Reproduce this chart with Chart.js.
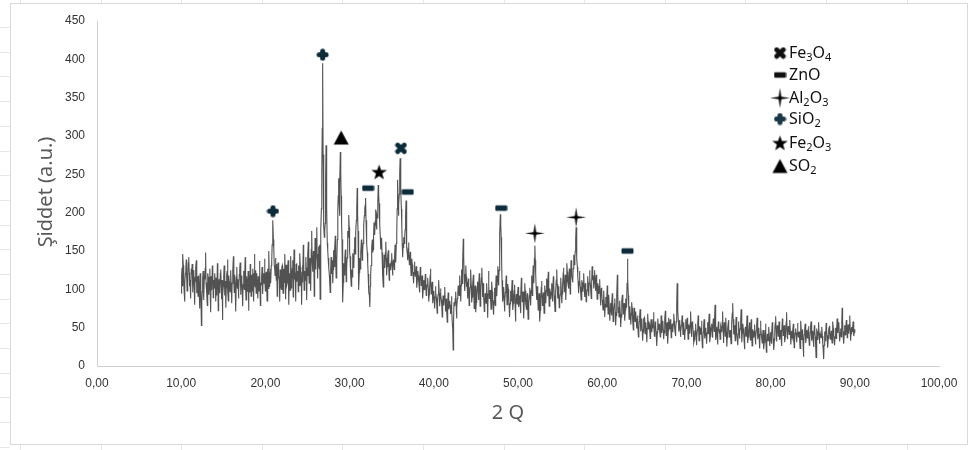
<!DOCTYPE html>
<html>
<head>
<meta charset="utf-8">
<script src="https://cdn.jsdelivr.net/npm/chart.js@4.4.1/dist/chart.umd.min.js"></script>
<style>
  html, body { margin: 0; padding: 0; background: #fff; }
  #wrap { width: 970px; height: 450px; }
</style>
</head>
<body>
<div id="wrap"><canvas id="xrdChart" width="970" height="450"></canvas></div>
<script>
// XRD pattern, 2theta from 10 to 90
// intensity: readings at 10.0, 10.1, ... 90.0
// intensityHalf: readings at 10.05, 10.15, ... 89.95
const startAngle = 10;
const angleStep = 0.1;
const intensity = [
  95,128,146,112,84,121,139,98,117,142,
  104,88,127,133,96,119,80,112,138,101,
  91,118,75,109,53,97,124,86,113,148,
  102,79,116,93,127,70,108,131,89,112,
  121,84,99,134,72,113,95,126,87,60,
  104,131,92,76,118,139,85,110,97,125,
  82,114,143,96,108,71,129,101,88,119,
  135,93,111,78,124,100,142,86,115,97,
  72,118,133,91,109,127,84,146,103,95,
  121,88,112,137,79,106,129,94,117,140,
  98,123,85,114,150,103,127,131,158,190,
  152,128,141,112,91,135,118,84,122,100,
  131,95,118,146,87,124,109,138,80,113,
  143,101,127,90,152,116,84,134,121,97,
  118,147,105,80,131,158,99,124,142,86,
  127,162,108,141,98,176,123,150,91,167,
  135,181,114,156,127,87,178,252,395,214,
  168,186,288,205,152,133,118,96,142,120,
  108,151,129,170,115,138,204,245,196,279,
  222,165,83,134,118,152,110,141,176,197,
  150,131,104,116,147,128,168,159,190,232,
  176,99,141,126,165,138,160,184,205,219,
  172,148,120,96,77,118,143,165,152,187,
  171,204,178,193,236,212,185,152,167,131,
  103,145,128,162,118,139,151,112,134,125,
  147,118,139,126,158,135,172,243,196,224,
  271,230,182,142,168,160,178,216,155,138,
  161,132,149,118,140,125,108,136,117,130,
  102,124,111,96,129,105,118,88,112,99,
  120,92,106,115,84,101,127,94,110,82,
  98,75,104,89,69,93,112,78,101,86,
  64,92,79,103,71,88,57,96,74,85,
  68,91,55,21,83,78,97,62,88,105,
  92,118,84,126,107,166,120,98,131,103,
  88,114,79,102,126,83,97,119,75,105,
  70,96,110,86,121,78,102,128,90,108,
  71,95,82,108,63,124,88,99,74,110,
  86,67,102,79,118,91,130,105,146,198,
  168,112,84,103,71,96,118,80,107,92,
  64,98,85,112,73,90,106,58,94,81,
  103,77,92,69,115,84,97,62,108,88,
  74,95,61,83,102,79,118,92,131,108,
  157,121,86,104,73,95,58,88,111,79,
  96,69,105,82,114,91,123,78,101,87,
  108,84,117,92,71,99,126,88,104,76,
  93,115,82,106,128,97,119,86,134,112,
  101,127,94,138,118,109,145,132,150,181,
  140,118,95,124,103,86,112,97,121,90,
  108,84,99,117,91,125,106,88,130,112,
  101,125,98,119,87,108,94,113,79,102,
  86,73,98,64,90,77,105,68,93,59,
  82,66,95,58,74,88,53,79,119,70,
  64,85,51,77,93,68,82,59,88,76,
  140,92,61,78,54,83,69,47,76,58,
  71,49,66,38,58,74,45,62,33,55,
  63,42,57,31,68,48,54,36,61,44,
  52,70,39,58,45,26,62,47,55,38,
  66,43,59,35,51,72,40,57,29,63,
  48,61,37,55,44,68,50,39,58,108,
  72,45,60,38,53,66,41,57,34,61,
  49,63,35,54,42,71,38,58,46,30,
  38,55,27,47,66,33,52,41,59,24,
  44,61,36,50,29,57,42,68,31,48,
  55,37,62,45,80,34,51,28,58,43,
  35,52,44,71,30,57,39,63,25,49,
  60,38,47,29,56,82,41,53,33,64,
  42,27,58,36,49,74,31,55,44,22,
  51,39,66,30,45,57,34,61,26,48,
  37,54,28,46,63,35,50,23,59,41,
  30,47,22,39,55,18,42,33,51,26,
  44,29,57,36,21,48,65,32,53,39,
  58,34,47,26,62,40,53,31,45,70,
  35,52,41,60,28,46,37,55,24,43,
  49,31,56,38,45,23,59,34,48,12,
  41,55,30,47,36,52,27,44,58,33,
  46,25,53,38,11,49,34,57,29,42,
  37,51,28,9,45,33,56,40,24,48,
  52,35,46,30,58,41,27,50,36,62,
  43,57,32,49,38,76,45,29,53,40,
  60,37,54,42,66,33,51,45,58,39,
  48
];
const intensityHalf = [
  118,104,131,97,109,126,115,103,135,122,
  112,97,120,108,125,101,114,129,95,117,
  106,92,121,99,84,113,102,118,127,109,
  96,121,104,110,94,117,99,123,106,101,
  108,115,92,119,103,97,121,106,112,93,
  117,99,111,102,124,96,118,105,114,101,
  108,124,111,119,92,116,104,113,97,126,
  110,118,97,106,113,122,101,117,109,124,
  105,96,114,119,98,112,121,107,125,110,
  102,117,98,124,109,116,96,121,108,113,
  119,104,127,101,122,114,108,136,172,165,
  131,118,124,133,107,121,112,126,104,129,
  118,127,109,124,132,105,128,116,121,99,
  125,112,138,106,127,119,133,110,124,131,
  104,129,117,123,109,136,120,112,128,118,
  144,120,135,126,152,138,129,142,133,126,
  150,139,146,132,158,121,205,310,276,182,
  177,240,232,160,141,128,106,125,131,138,
  126,143,152,138,131,165,222,215,238,250,
  186,126,109,128,140,131,129,156,168,181,
  143,118,126,135,139,152,146,174,205,198,
  134,122,133,147,151,149,172,196,210,190,
  160,134,108,92,104,131,155,148,171,178,
  189,186,197,214,224,196,168,160,148,118,
  126,136,148,141,130,144,129,125,130,137,
  132,129,133,144,146,160,205,220,210,250,
  252,205,160,155,163,170,196,190,147,150,
  146,141,133,129,132,117,122,126,124,115,
  113,118,104,112,116,111,104,100,106,108,
  106,99,111,100,93,114,110,102,96,91,
  87,90,96,80,82,102,95,90,93,78,
  80,86,91,87,80,73,77,85,80,77,
  80,73,48,60,80,88,80,76,96,98,
  105,101,105,116,135,142,110,114,117,110,
  101,97,91,114,105,90,108,98,90,89,
  83,103,98,104,100,90,115,109,99,89,
  83,89,95,86,94,105,93,86,92,97,
  76,85,90,99,104,111,117,125,172,185,
  140,98,94,87,84,107,99,93,100,78,
  81,92,99,93,82,98,82,76,88,92,
  90,85,81,92,99,91,80,85,98,81,
  85,78,72,92,90,98,105,111,120,140,
  138,104,95,88,84,76,73,99,95,88,
  83,87,93,98,103,107,100,90,94,96,
  96,100,104,82,85,112,107,96,90,85,
  104,98,94,117,112,108,103,110,123,106,
  114,110,116,128,113,127,138,141,165,170,
  129,107,110,113,95,99,104,109,106,100,
  96,92,108,104,108,115,97,109,121,118,
  113,111,108,103,97,101,104,96,90,94,
  80,85,81,77,83,91,86,80,76,72,
  74,80,76,66,81,70,66,92,95,77,
  74,68,64,85,80,75,70,73,82,108,
  115,76,70,66,68,76,58,62,67,64,
  60,57,52,48,66,60,53,48,44,61,
  52,50,44,49,58,51,45,48,52,50,
  61,54,48,51,35,44,54,51,46,45,
  54,51,47,43,61,56,48,43,46,55,
  54,49,46,50,56,59,44,49,80,85,
  58,52,49,45,59,53,49,45,47,55,
  56,49,44,48,56,54,48,52,38,34,
  46,41,37,56,49,42,46,50,41,34,
  52,48,43,40,43,49,55,49,39,46,
  46,50,53,62,57,42,39,43,50,48,
  43,48,57,50,43,48,51,44,37,54,
  49,42,38,43,69,61,47,43,48,53,
  34,42,47,43,61,52,43,49,33,36,
  45,52,48,38,51,45,47,43,37,42,
  45,41,37,54,49,42,36,41,50,36,
  38,34,31,47,36,30,37,42,38,35,
  36,43,46,28,34,56,48,42,46,41,
  46,40,36,44,51,46,42,38,57,47,
  43,46,50,44,37,41,46,39,33,46,
  40,43,47,41,34,41,46,41,30,27,
  48,42,38,41,44,39,35,51,45,39,
  35,39,45,27,30,41,45,43,35,39,
  44,39,21,27,39,44,48,32,36,50,
  43,40,38,44,49,34,38,43,49,52,
  50,44,40,43,57,60,37,41,46,50,
  48,45,48,54,49,42,48,51,48,44
];

// phase markers (2theta, intensity where the symbol sits)
const phaseNames = ['Fe3O4', 'ZnO', 'Al2O3', 'SiO2', 'Fe2O3', 'SO2'];
const fe3o4X = [36.1];        const fe3o4Y = [284];
const znoX = [32.2, 36.9, 48.0, 63.0]; const znoY = [232, 227, 206, 150];
const al2o3X = [52.0, 56.9];  const al2o3Y = [173, 194];
const sio2X = [20.9, 26.8];   const sio2Y = [202, 406];
const fe2o3X = [33.5];        const fe2o3Y = [253];
const so2X = [29.0];          const so2Y = [298];

const xTicks = [0, 10, 20, 30, 40, 50, 60, 70, 80, 90, 100];
const yTicks = [0, 50, 100, 150, 200, 250, 300, 350, 400, 450];

const navy = '#0e2b3b';

// small canvases used as point styles
function makeSymbol(kind, color) {
  const c = document.createElement('canvas');
  let s = 13;
  if (kind === 'star4') s = 21;
  if (kind === 'star5' || kind === 'triangle') s = 17;
  c.width = s; c.height = s;
  const g = c.getContext('2d');
  const m = s / 2;
  g.fillStyle = color;
  g.strokeStyle = color;
  if (kind === 'plus') {
    g.lineWidth = 5; g.lineCap = 'round';
    g.beginPath();
    g.moveTo(m - 3.5, m); g.lineTo(m + 3.5, m);
    g.moveTo(m, m - 3.5); g.lineTo(m, m + 3.5);
    g.stroke();
  } else if (kind === 'cross') {
    g.lineWidth = 4.8; g.lineCap = 'round';
    g.beginPath();
    g.moveTo(m - 3.3, m - 3.3); g.lineTo(m + 3.3, m + 3.3);
    g.moveTo(m + 3.3, m - 3.3); g.lineTo(m - 3.3, m + 3.3);
    g.stroke();
  } else if (kind === 'dash') {
    g.beginPath();
    g.roundRect(0.5, m - 2.7, s - 1, 5.4, 1.2);
    g.fill();
  } else if (kind === 'star4') {
    g.beginPath();
    for (let k = 0; k < 8; k++) {
      const a = k * Math.PI / 4 - Math.PI / 2;
      const r = k % 2 === 0 ? 10 : 1.9;
      const px = m + r * Math.cos(a), py = m + r * Math.sin(a);
      if (k === 0) g.moveTo(px, py); else g.lineTo(px, py);
    }
    g.closePath(); g.fill();
  } else if (kind === 'star5') {
    g.beginPath();
    for (let k = 0; k < 10; k++) {
      const a = k * Math.PI / 5 - Math.PI / 2;
      const r = k % 2 === 0 ? 8.2 : 3.3;
      const px = m + r * Math.cos(a), py = m + 0.6 + r * Math.sin(a);
      if (k === 0) g.moveTo(px, py); else g.lineTo(px, py);
    }
    g.closePath(); g.fill();
  } else if (kind === 'triangle') {
    g.beginPath();
    g.moveTo(m, 1.5); g.lineTo(s - 1, s - 1.5); g.lineTo(1, s - 1.5);
    g.closePath(); g.fill();
  }
  return c;
}

const symFe3o4 = makeSymbol('cross', navy);
const symZno = makeSymbol('dash', navy);
const symAl2o3 = makeSymbol('star4', '#000');
const symSio2 = makeSymbol('plus', navy);
const symFe2o3 = makeSymbol('star5', '#000');
const symSo2 = makeSymbol('triangle', '#000');

const legendSymbols = [
  makeSymbol('cross', '#111'), makeSymbol('dash', '#111'), symAl2o3,
  makeSymbol('plus', '#1a3848'), symFe2o3, symSo2
];

function pts(xs, ys) {
  return xs.map((x, i) => ({ x: x, y: ys[i] }));
}
function markerSet(name, xs, ys, sym) {
  return { label: name, data: pts(xs, ys), pointStyle: sym, pointRadius: 6,
           showLine: false, order: 0 };
}

// merge the two reading lists in angle order
const xrdPoints = [];
intensity.forEach((v, i) => {
  xrdPoints.push({ x: +(startAngle + i * angleStep).toFixed(2), y: v });
  if (i < intensityHalf.length) {
    xrdPoints.push({ x: +(startAngle + (i + 0.5) * angleStep).toFixed(2), y: intensityHalf[i] });
  }
});

// page background: spreadsheet cell lines + chart box
const backdrop = {
  id: 'backdrop',
  beforeDraw(chart) {
    const ctx = chart.ctx;
    ctx.save();
    ctx.fillStyle = '#fff';
    ctx.fillRect(0, 0, chart.width, chart.height);
    ctx.strokeStyle = '#e6e6e6';
    ctx.lineWidth = 1;
    ctx.beginPath();
    for (let y = 27; y < 450; y += 24.7) { ctx.moveTo(0, Math.round(y) + 0.5); ctx.lineTo(10, Math.round(y) + 0.5); }
    for (let x = 20; x < 970; x += 80.6) { ctx.moveTo(Math.round(x) + 0.5, 0); ctx.lineTo(Math.round(x) + 0.5, 3); ctx.moveTo(Math.round(x) + 0.5, 445); ctx.lineTo(Math.round(x) + 0.5, 450); }
    ctx.stroke();
    ctx.fillStyle = '#fff';
    ctx.fillRect(10, 3, 958, 442);
    ctx.strokeStyle = '#d9d9d9';
    ctx.strokeRect(10.5, 3.5, 957, 441);
    ctx.restore();
  }
};

// axis titles and legend with subscripts
function drawFormula(ctx, text, x, y, size) {
  let cx = x;
  for (const ch of text) {
    const sub = ch >= '0' && ch <= '9';
    ctx.font = (sub ? Math.round(size * 0.7) : size) + 'px "Noto Sans"';
    ctx.fillText(ch, cx, sub ? y + size * 0.3 : y);
    cx += ctx.measureText(ch).width;
  }
}

const annotations = {
  id: 'annotations',
  afterDraw(chart) {
    const ctx = chart.ctx;
    ctx.save();
    ctx.fillStyle = '#595959';
    ctx.font = '20px "Noto Sans"';
    ctx.textAlign = 'center';
    ctx.textBaseline = 'middle';
    ctx.fillText('2 Q', 508, 413);
    ctx.translate(46, 192);
    ctx.rotate(-Math.PI / 2);
    ctx.fillText('Şiddet (a.u.)', 0, 0);
    ctx.restore();

    ctx.save();
    ctx.fillStyle = '#111';
    ctx.textAlign = 'left';
    ctx.textBaseline = 'middle';
    const legendY = [53, 75, 98, 119, 143, 166];
    phaseNames.forEach((name, i) => {
      const sym = legendSymbols[i];
      ctx.drawImage(sym, 780 - sym.width / 2, legendY[i] - sym.height / 2);
      drawFormula(ctx, name, 789, legendY[i], 16);
    });
    ctx.restore();
  }
};

const ctx = document.getElementById('xrdChart').getContext('2d');
const xrdChart = new Chart(ctx, {
  type: 'scatter',
  data: {
    datasets: [
      markerSet('Fe3O4', fe3o4X, fe3o4Y, symFe3o4),
      markerSet('ZnO', znoX, znoY, symZno),
      markerSet('Al2O3', al2o3X, al2o3Y, symAl2o3),
      markerSet('SiO2', sio2X, sio2Y, symSio2),
      markerSet('Fe2O3', fe2o3X, fe2o3Y, symFe2o3),
      markerSet('SO2', so2X, so2Y, symSo2),
      {
        label: 'XRD',
        data: xrdPoints,
        showLine: true,
        borderColor: '#525252',
        borderWidth: 1.1,
        pointRadius: 0,
        tension: 0,
        order: 10
      }
    ]
  },
  options: {
    responsive: false,
    animation: false,
    layout: { padding: { top: 21, right: 31, left: 0, bottom: 0 } },
    plugins: { legend: { display: false }, tooltip: { enabled: false } },
    scales: {
      x: {
        type: 'linear', min: 0, max: 100,
        afterFit(scale) { scale.height = 84; },
        afterBuildTicks(scale) { scale.ticks = xTicks.map(v => ({ value: v })); },
        grid: { display: false, drawTicks: false },
        border: { display: true, color: '#d0d0d0', width: 1 },
        ticks: {
          padding: 10, color: '#333', maxRotation: 0, autoSkip: false,
          font: { family: '"Liberation Sans", Arial', size: 12 },
          callback: v => v.toFixed(2).replace('.', ',')
        }
      },
      y: {
        min: 0, max: 450,
        afterFit(scale) { scale.width = 97; },
        afterBuildTicks(scale) { scale.ticks = yTicks.map(v => ({ value: v })); },
        grid: { display: false, drawTicks: false },
        border: { display: true, color: '#d0d0d0', width: 1 },
        ticks: {
          padding: 12, color: '#333',
          font: { family: '"Liberation Sans", Arial', size: 12 }
        }
      }
    }
  },
  plugins: [backdrop, annotations]
});
</script>
</body>
</html>
